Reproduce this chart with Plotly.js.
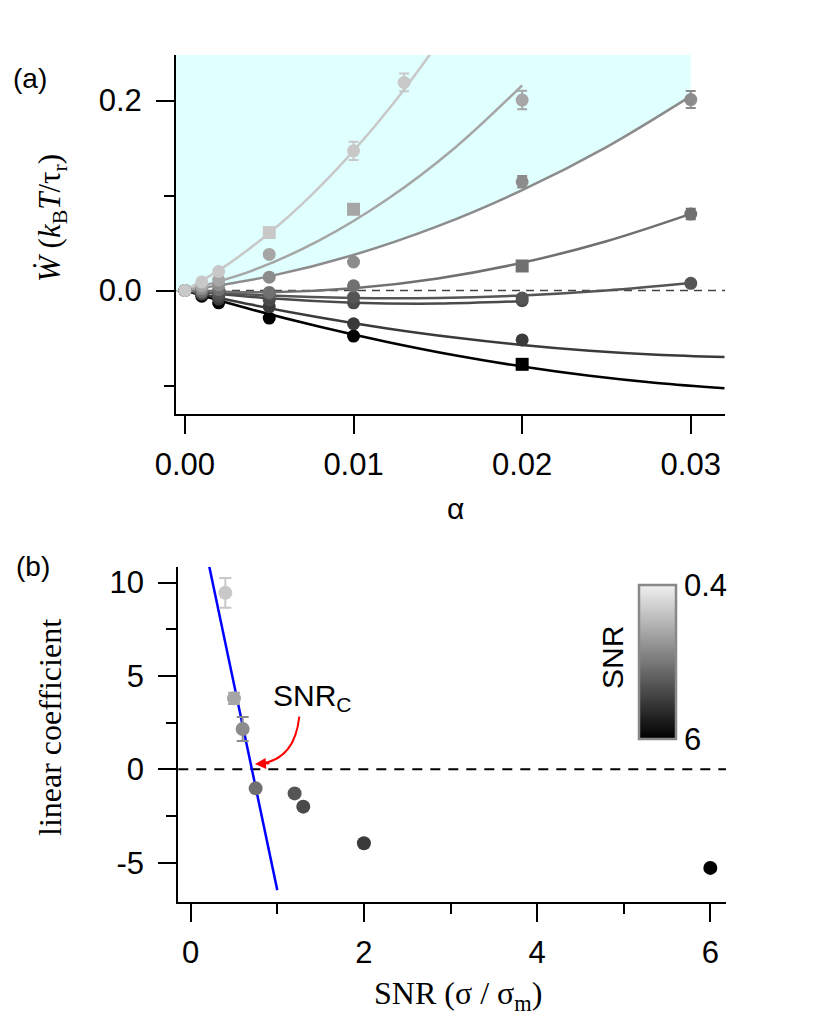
<!DOCTYPE html>
<html>
<head>
<meta charset="utf-8">
<script src="https://cdn.plot.ly/plotly-3.0.1.min.js"></script>
<style>
  body { margin: 0; background: #fff; }
  #chart { width: 830px; height: 1032px; }
</style>
</head>
<body>
<div id="chart"></div>
<script>
// ---- panel (a): measured work rate vs alpha, one series per SNR (light -> dark)
const alphaPts = [0, 0.001, 0.002, 0.005, 0.01, 0.013, 0.02, 0.03];

const wA = [0, 0.009, 0.020, 0.061, 0.147, 0.219, null, null];
const wB = [0, 0.005, 0.011, 0.038, 0.0855, null, 0.2005, null];
const wC = [0, 0.002, 0.006, 0.014, 0.030, null, 0.1145, 0.201];
const wD = [0, -0.001, 0.001, -0.002, 0.005, null, 0.0258, 0.0805];
const wE = [0, -0.002, -0.003, -0.004, -0.007, null, -0.008, 0.0076];
const wF = [0, -0.003, -0.006, -0.010, -0.013, null, -0.0107, null];
const wG = [0, -0.004, -0.009, -0.017, -0.035, null, -0.052, null];
const wH = [0, -0.006, -0.013, -0.029, -0.048, null, -0.0777, null];

const errA = [0, 0, 0, 0.002, 0.0095, 0.0093, 0, 0];
const errB = [0, 0, 0, 0, 0.003, 0, 0.0097, 0];
const errC = [0, 0, 0, 0, 0, 0, 0.006, 0.009];
const errD = [0, 0, 0, 0, 0, 0, 0.003, 0.0056];
const errE = [0, 0, 0, 0, 0, 0, 0, 0];
const errF = [0, 0, 0, 0, 0, 0, 0, 0];
const errG = [0, 0, 0, 0, 0, 0, 0, 0];
const errH = [0, 0, 0, 0, 0, 0, 0.004, 0];

// fitted curves
const fitAX = [0, 0.0025, 0.005, 0.0075, 0.01, 0.0125, 0.015];
const fitAY = [0, 0.027, 0.0605, 0.1005, 0.147, 0.200, 0.26];
const fitBX = [0, 0.004, 0.008, 0.012, 0.016, 0.02];
const fitBY = [0, 0.021, 0.053, 0.096, 0.150, 0.216];
const fitCX = [0, 0.005, 0.01, 0.015, 0.02, 0.025, 0.03];
const fitCY = [0, 0.0149, 0.0374, 0.0677, 0.1056, 0.151, 0.2046];
const fitDX = [0, 0.005, 0.01, 0.015, 0.02, 0.025, 0.03];
const fitDY = [0, -0.0019, 0.0023, 0.0127, 0.0292, 0.0519, 0.0807];
const fitEX = [0, 0.005, 0.01, 0.015, 0.02, 0.025, 0.03];
const fitEY = [0, -0.0052, -0.0078, -0.0078, -0.0052, 0, 0.0078];
const fitFX = [0, 0.005, 0.01, 0.015, 0.02];
const fitFY = [0, -0.0082, -0.0128, -0.0138, -0.0112];
const fitGX = [0, 0.004, 0.008, 0.012, 0.016, 0.02, 0.024, 0.028, 0.032];
const fitGY = [0, -0.0151, -0.0284, -0.0399, -0.0495, -0.0574, -0.0635, -0.0677, -0.0701];
const fitHX = [0, 0.004, 0.008, 0.012, 0.016, 0.02, 0.024, 0.028, 0.032];
const fitHY = [0, -0.0202, -0.0382, -0.0542, -0.0682, -0.080, -0.0898, -0.0974, -0.1030];

// ---- panel (b): linear coefficient of the fits vs SNR
const snr = [0.4, 0.5, 0.6, 0.75, 1.2, 1.3, 2, 6];
const linCoef = [9.45, 3.8, 2.16, -1.02, -1.29, -2.0, -3.96, -5.28];
const linErr = [0.8, 0.3, 0.64, 0, 0, 0, 0, 0];
const fitLineX = [0.215, 1.0];
const fitLineY = [10.85, -6.47];

// tick labels
const aTickX = [0, 0.01, 0.02, 0.03];
const aTickXText = ['0.00', '0.01', '0.02', '0.03'];
const aTickY = [0, 0.2];
const aTickYText = ['0.0', '0.2'];
const bTickX = [0, 2, 4, 6];
const bTickXText = ['0', '2', '4', '6'];
const bTickY = [-5, 0, 5, 10];
const bTickYText = ['-5', '0', '5', '10'];
const cbarTickText = ['6', '0.4'];

// styles
const grays = ['#c8c8c8', '#a6a6a6', '#8c8c8c', '#707070', '#555555', '#4a4a4a', '#3a3a3a', '#000000'];
const squareMarkers = [[3], [4], [], [6], [], [], [], [6]];
const sans = 'Liberation Sans, Arial, sans-serif';
const serif = 'Liberation Serif, DejaVu Serif, serif';

const aRangeX = [-0.00053, 0.03203];
const aRangeY = [-0.13, 0.2479];
const bRangeX = [-0.143, 6.181];
const bRangeY = [-7.09, 10.85];

const series = [
  { w: wA, err: errA, fx: fitAX, fy: fitAY },
  { w: wB, err: errB, fx: fitBX, fy: fitBY },
  { w: wC, err: errC, fx: fitCX, fy: fitCY },
  { w: wD, err: errD, fx: fitDX, fy: fitDY },
  { w: wE, err: errE, fx: fitEX, fy: fitEY },
  { w: wF, err: errF, fx: fitFX, fy: fitFY },
  { w: wG, err: errG, fx: fitGX, fy: fitGY },
  { w: wH, err: errH, fx: fitHX, fy: fitHY }
];

const traces = [];

// cyan region above the third fit
const cyanX = [aRangeX[0]].concat(fitCX);
traces.push({
  x: cyanX, y: [0].concat(fitCY), mode: 'lines',
  line: { width: 0, shape: 'spline' }, hoverinfo: 'skip', showlegend: false
});
traces.push({
  x: cyanX, y: cyanX.map(() => aRangeY[1]), mode: 'lines',
  line: { width: 0 }, fill: 'tonexty', fillcolor: '#e0ffff',
  hoverinfo: 'skip', showlegend: false
});

// fits, darkest first so light ones end on top
for (let i = series.length - 1; i >= 0; i--) {
  traces.push({
    x: series[i].fx, y: series[i].fy, mode: 'lines',
    line: { color: grays[i], width: 2.5, shape: 'spline' },
    showlegend: false
  });
}
for (let i = series.length - 1; i >= 0; i--) {
  const sym = alphaPts.map((_, j) => squareMarkers[i].includes(j) ? 'square' : 'circle');
  traces.push({
    x: alphaPts, y: series[i].w, mode: 'markers',
    marker: { color: grays[i], size: 13, symbol: sym },
    error_y: { type: 'data', array: series[i].err, color: grays[i], thickness: 2, width: 5 },
    showlegend: false
  });
}

// panel (b)
traces.push({
  x: fitLineX, y: fitLineY, xaxis: 'x2', yaxis: 'y2', mode: 'lines',
  line: { color: '#0000ff', width: 2.5 }, showlegend: false
});
snr.forEach((s, i) => {
  traces.push({
    x: [s], y: [linCoef[i]], xaxis: 'x2', yaxis: 'y2', mode: 'markers',
    marker: { color: grays[i], size: 14 },
    error_y: { type: 'data', array: [linErr[i]], color: grays[i], thickness: 2, width: 6 },
    showlegend: false
  });
});
// colour scale key
traces.push({
  x: [null], y: [null], xaxis: 'x2', yaxis: 'y2', mode: 'markers',
  marker: {
    color: [0, 1], cmin: 0, cmax: 1, size: 1,
    colorscale: [[0, '#000000'], [1, '#f0f0f0']],
    showscale: true,
    colorbar: {
      x: 639.3 / 830, xanchor: 'left', xpad: 0,
      y: 1 - 662 / 1032, yanchor: 'middle', ypad: 0,
      len: 154, lenmode: 'pixels', thickness: 37,
      outlinecolor: '#888888', outlinewidth: 2.5,
      tickvals: [0, 1], ticktext: cbarTickText, ticks: '',
      tickfont: { family: sans, size: 31, color: '#000' }
    }
  },
  hoverinfo: 'skip', showlegend: false
});

const axisBase = {
  showline: true, linecolor: '#000', linewidth: 2,
  ticks: 'outside', ticklen: 18, tickwidth: 2, tickcolor: '#000',
  showgrid: false, zeroline: false, ticklabelstandoff: 8,
  tickfont: { family: sans, size: 31, color: '#000' }
};
const minorBase = { ticks: 'outside', ticklen: 10, tickwidth: 2, tickcolor: '#000', showgrid: false };

// text placed by pixel centre
function label(text, px, py, font, angle) {
  return {
    text: text, xref: 'paper', yref: 'paper', x: px / 830, y: 1 - py / 1032,
    xanchor: 'center', yanchor: 'middle', textangle: angle || 0,
    showarrow: false, font: font
  };
}
const fSans = { family: sans, size: 30, color: '#000' };
const fSerif = { family: serif, size: 32, color: '#000' };

const layout = {
  width: 830, height: 1032,
  margin: { l: 0, r: 0, t: 0, b: 0 },
  paper_bgcolor: '#fff', plot_bgcolor: 'rgba(0,0,0,0)',
  showlegend: false,
  xaxis: Object.assign({}, axisBase, {
    domain: [176 / 830, 725 / 830], range: aRangeX, anchor: 'y',
    tickvals: aTickX, ticktext: aTickXText, ticklabelstandoff: 4
  }),
  yaxis: Object.assign({}, axisBase, {
    domain: [1 - 414 / 1032, 1 - 55 / 1032], range: aRangeY, anchor: 'x',
    tickvals: aTickY, ticktext: aTickYText,
    minor: Object.assign({}, minorBase, { tickvals: [-0.1, 0.1] })
  }),
  xaxis2: Object.assign({}, axisBase, {
    domain: [178.3 / 830, 726 / 830], range: bRangeX, anchor: 'y2',
    tickvals: bTickX, ticktext: bTickXText, ticklabelstandoff: 4,
    minor: Object.assign({}, minorBase, { tickvals: [1, 3, 5] })
  }),
  yaxis2: Object.assign({}, axisBase, {
    domain: [1 - 901.7 / 1032, 1 - 566.7 / 1032], range: bRangeY, anchor: 'x2',
    tickvals: bTickY, ticktext: bTickYText,
    minor: Object.assign({}, minorBase, { tickvals: [-2.5, 2.5, 7.5] })
  }),
  shapes: [
    { type: 'line', xref: 'x domain', yref: 'y', x0: 0, x1: 1, y0: 0, y1: 0,
      layer: 'below', line: { color: '#444', width: 1.5, dash: '8px,6px' } },
    { type: 'line', xref: 'x2 domain', yref: 'y2', x0: 0, x1: 1, y0: 0, y1: 0,
      layer: 'below', line: { color: '#000', width: 2, dash: '10px,8px' } },
    { type: 'path', xref: 'x2', yref: 'y2', path: 'M 1.254,2.82 Q 1.2,0.5 0.80,0.30',
      line: { color: '#ff0000', width: 2 } }
  ],
  annotations: [
    label('(a)', 30, 78, { family: sans, size: 28, color: '#000' }),
    label('(b)', 33, 566, { family: sans, size: 28, color: '#000' }),
    label('<i>Ẇ</i> (<i>k</i><sub>B</sub><i>T</i>/τ<sub>r</sub>)', 52, 218,
      { family: serif, size: 31, color: '#000' }, -90),
    label('α', 455, 508, fSans),
    label('linear coefficient', 50, 728, fSerif, -90),
    label('SNR (σ / σ<sub>m</sub>)', 458, 995, fSerif),
    label('SNR', 612, 658, fSans, -90),
    Object.assign(label('SNR<sub>C</sub>', 271, 697, fSans), { xanchor: 'left' }),
    { text: '', xref: 'x2', yref: 'y2', x: 0.742, y: 0.28, ax: 16, ay: -1,
      showarrow: true, arrowhead: 2, arrowsize: 1.1, arrowwidth: 2, arrowcolor: '#ff0000', standoff: 0 }
  ]
};

Plotly.newPlot('chart', traces, layout, { displayModeBar: false, staticPlot: true });
</script>
</body>
</html>
